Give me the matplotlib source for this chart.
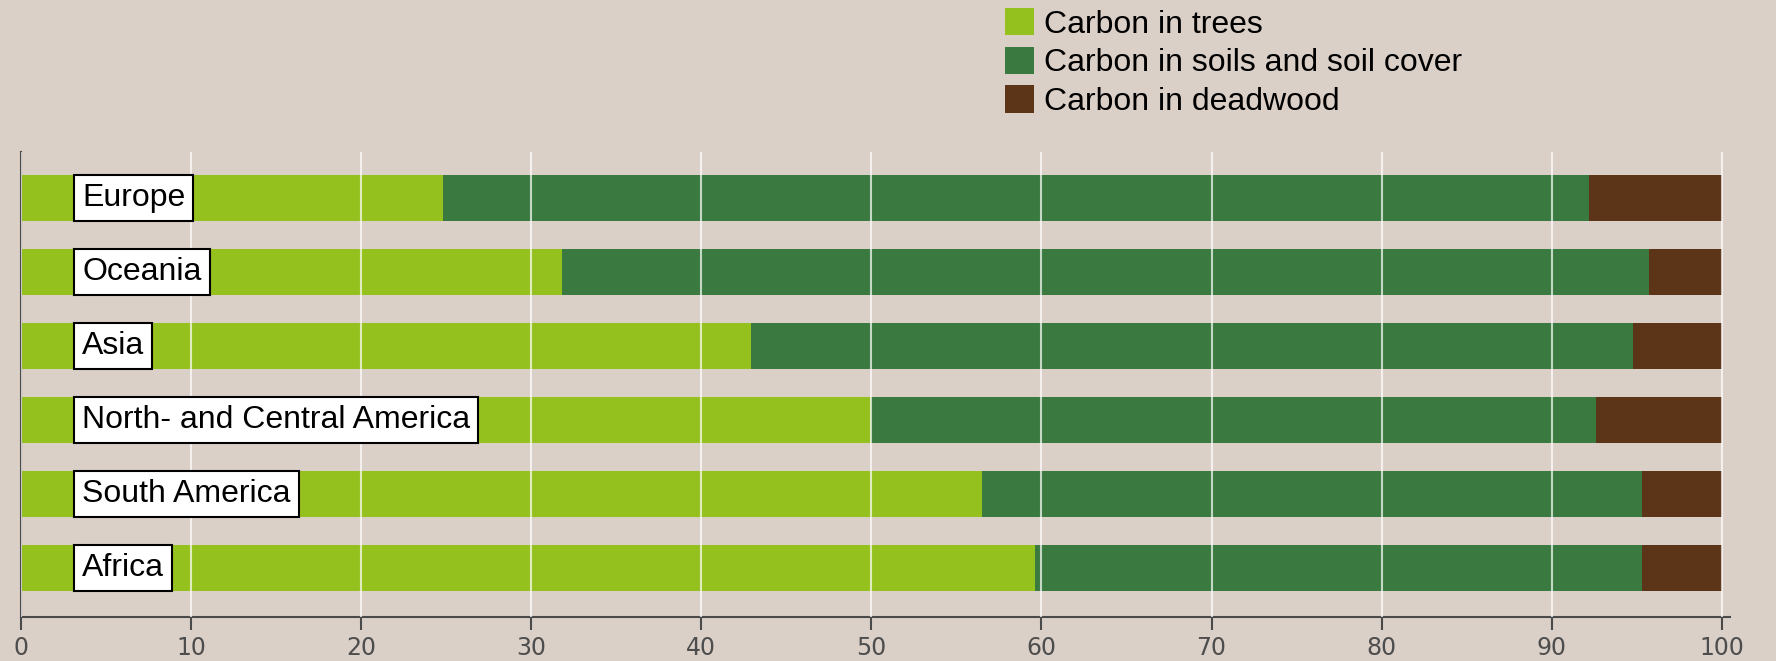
import numpy as np
import matplotlib.pyplot as plt
from matplotlib.patches import Patch

regions = ["Europe", "Oceania", "Asia", "North- and Central America", "South America", "Africa"]
trees = [24.8, 31.8, 42.9, 50.0, 56.5, 59.6]
soils = [67.4, 63.9, 51.9, 42.6, 38.8, 35.7]
deadwood = [7.8, 4.3, 5.2, 7.4, 4.7, 4.7]
ticks = [0, 10, 20, 30, 40, 50, 60, 70, 80, 90, 100]

bg = "#dbd0c8"
c_trees = "#95c11f"
c_soils = "#3a7a40"
c_dead = "#5c3418"

fig = plt.figure(figsize=(17.76, 6.61), dpi=100, facecolor=bg)
ax = fig.add_axes([0.0118, 0.0666, 0.9625, 0.7035])
ax.set_facecolor(bg)

y = np.arange(len(regions))
trees = np.array(trees)
soils = np.array(soils)
deadwood = np.array(deadwood)
h = 0.62
ax.barh(y, trees, height=h, color=c_trees, zorder=1)
ax.barh(y, soils, left=trees, height=h, color=c_soils, zorder=1)
ax.barh(y, deadwood, left=trees + soils, height=h, color=c_dead, zorder=1)

# region names sit in white boxes on top of the bars
for i, name in enumerate(regions):
    ax.text(3.6, y[i], name, ha="left", va="center", fontsize=23,
            family=["Liberation Sans", "DejaVu Sans"], color="black", zorder=4,
            bbox=dict(boxstyle="square,pad=0.25", facecolor="white",
                      edgecolor="black", linewidth=1.5))

ax.set_xlim(0, 100.5)
ax.set_ylim(len(regions) - 1 + 0.66, -0.62)
ax.set_xticks(ticks)
ax.set_xticklabels([str(t) for t in ticks], fontsize=17, color="#4d4d4d",
                   family=["DejaVu Sans Condensed", "Liberation Sans Narrow", "DejaVu Sans"])
ax.set_yticks([])
ax.tick_params(axis="x", length=9, width=1.5, color="#4a4a4a", pad=5)
ax.set_axisbelow(False)
ax.grid(axis="x", color="white", linewidth=1.5, alpha=0.7, zorder=2)
for s in ["top", "right"]:
    ax.spines[s].set_visible(False)
for s in ["left", "bottom"]:
    ax.spines[s].set_color("#4a4a4a")
    ax.spines[s].set_linewidth(1.5)

handles = [Patch(facecolor=c_trees, label="Carbon in trees"),
           Patch(facecolor=c_soils, label="Carbon in soils and soil cover"),
           Patch(facecolor=c_dead, label="Carbon in deadwood")]
fig.legend(handles=handles, loc="upper left", bbox_to_anchor=(1005 / 1776, 1 - 8 / 661),
           frameon=False, prop={"family": ["Liberation Sans", "DejaVu Sans"], "size": 23},
           handlelength=0.9, handleheight=0.94, handletextpad=0.33, labelspacing=0.22,
           borderpad=0, borderaxespad=0)

plt.savefig("out.png", dpi=100, facecolor=bg)
